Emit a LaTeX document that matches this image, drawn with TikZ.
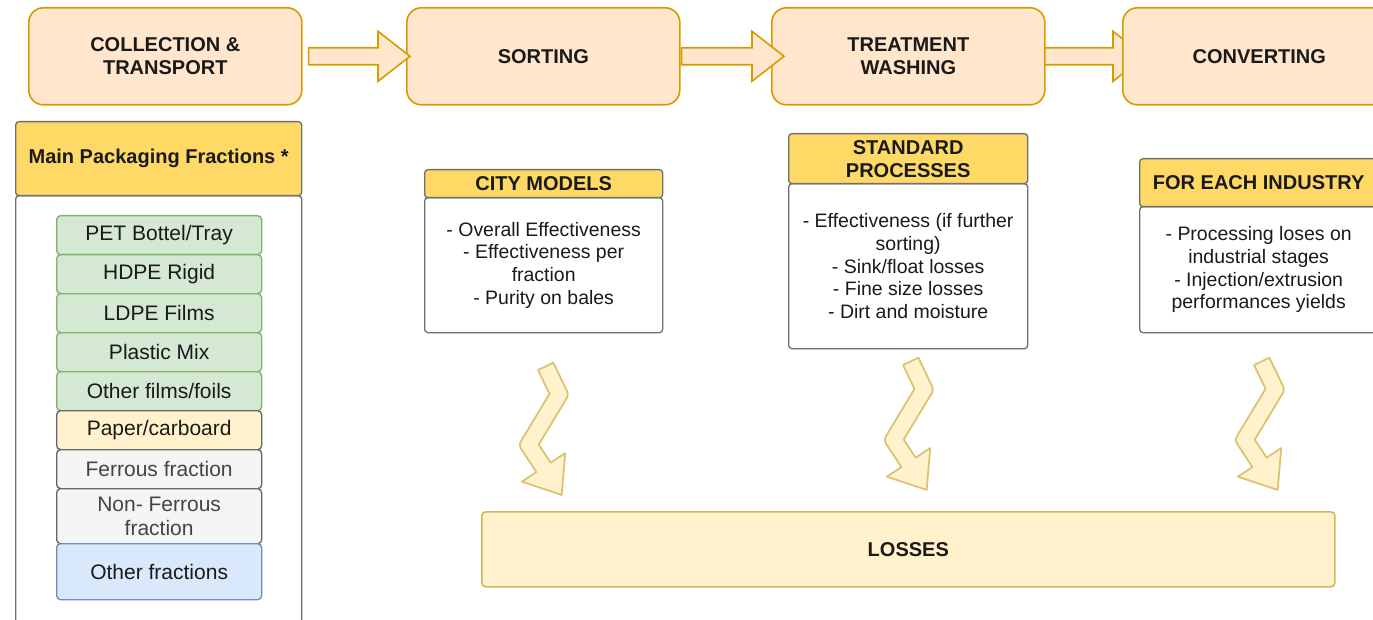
\documentclass[tikz,border=0pt]{standalone}
\usepackage{fontspec}
\setmainfont{Liberation Sans}
\usetikzlibrary{calc}
\pgfdeclarelayer{bg}
\pgfsetlayers{bg,main}
\definecolor{orfill}{HTML}{FFE6CC}
\definecolor{orline}{HTML}{D79B00}
\definecolor{yfill}{HTML}{FFD966}
\definecolor{hdrline}{HTML}{707070}
\definecolor{lyfill}{HTML}{FFF2CC}
\definecolor{lyline}{HTML}{D6B656}
\definecolor{gfill}{HTML}{D5E8D4}
\definecolor{gline}{HTML}{82B366}
\definecolor{bfill}{HTML}{DAE8FC}
\definecolor{bline}{HTML}{6C8EBF}
\definecolor{grfill}{HTML}{F5F5F5}
\definecolor{grline}{HTML}{666666}
\definecolor{txt}{HTML}{1A1A1A}
\definecolor{grtxt}{HTML}{444444}
\newcommand\blockarrow[2]{%
  \draw[blockarr] ($(#1)+(0,-8.5)$) -- ($(#2)+(-32,-8.5)$) -- ($(#2)+(-32,-25)$)
    -- (#2) -- ($(#2)+(-32,25)$) -- ($(#2)+(-32,8.5)$) -- ($(#1)+(0,8.5)$) -- cycle;}
\newcommand\zigarrow[1]{%
  \begin{scope}[shift={(#1)}]
    \draw[zigarr] (0.34,0.69) -- (15.66,-6.69) -- (27.68,18.25)
      .. controls (31.15,25.46) .. (27.01,32.31)
      -- (1.04,75.3) -- (12.95,93.37) -- (27.55,83.75) -- (24,125.6)
      -- (-15.86,112.35) -- (-1.25,102.73) -- (-14.64,82.38)
      .. controls (-19.04,75.7) .. (-14.9,68.85)
      -- (11.85,24.54) -- cycle;
  \end{scope}}
\begin{document}
\begin{tikzpicture}[x=0.75pt,y=-0.75pt,
  every node/.style={inner sep=0pt, align=center, text=txt},
  stage/.style={draw=orline, fill=orfill, line width=1.2pt, rounded corners=11pt,
    minimum width=204.75pt, minimum height=72.75pt, anchor=north west,
    font=\fontsize{15}{17.25}\selectfont\bfseries},
  blockarr/.style={draw=orline, fill=orfill, line width=1.2pt, line join=miter},
  zigarr/.style={draw=lyline!85, fill=lyfill, line width=1.3pt, line join=round},
  hdr/.style={draw=hdrline, fill=yfill, line width=1pt, rounded corners=2.5pt,
    anchor=north west, font=\fontsize{15}{17.25}\selectfont\bfseries},
  panel/.style={draw=hdrline, fill=white, line width=1pt, rounded corners=2.5pt,
    anchor=north west, font=\fontsize{14.6}{17}\selectfont},
  item/.style={line width=1pt, rounded corners=3pt, anchor=north west,
    minimum width=153.75pt, font=\fontsize{15.75}{18}\selectfont},
  green/.style={item, draw=gline, fill=gfill},
  paper/.style={item, draw=grline, fill=lyfill},
  grey/.style={item, draw=grline, fill=grfill, text=grtxt},
  blue/.style={item, draw=bline, fill=bfill},
  loss/.style={draw=lyline, fill=lyfill, line width=1.2pt, rounded corners=3pt,
    anchor=north west, minimum width=639.75pt, minimum height=56.25pt,
    font=\fontsize{15}{17.25}\selectfont\bfseries}]
\useasboundingbox (0,0) rectangle (1373,620);

% stage boxes
\node[stage] (coll) at (28,7) {COLLECTION \&\\TRANSPORT};
\node[stage] (sort) at (406,7) {SORTING};
\node[stage] (treat) at (771,7) {TREATMENT\\WASHING};
\node[stage] (conv) at (1122,7) {CONVERTING};

% block arrows
\path (coll.east) ++(6,0) coordinate (a1s);
\path (sort.west) ++(4,0) coordinate (a1t);
\path (sort.east) ++(1,0) coordinate (a2s);
\path (treat.west) ++(13,0) coordinate (a2t);
\path (treat.east) ++(-4,0) coordinate (a3s);
\path (conv.west) ++(23,0) coordinate (a3t);
\blockarrow{a1s}{a1t}
\blockarrow{a2s}{a2t}
\begin{pgfonlayer}{bg}
\blockarrow{a3s}{a3t}
\end{pgfonlayer}

% left panel
\node[panel, minimum width=214.5pt, minimum height=322.5pt] (fracbody) at (15,195) {};
\node[hdr, minimum width=214.5pt, minimum height=55.5pt] (frachead) at (15,121) {Main Packaging Fractions *};
\node[green, minimum height=29.25pt] (pet) at (56,215) {PET Bottel/Tray};
\node[green, minimum height=29.25pt] (hdpe) at (56,254) {HDPE Rigid};
\node[green, minimum height=29.25pt] (ldpe) at (56,293) {LDPE Films};
\node[green, minimum height=29.25pt] (mix) at (56,332) {Plastic Mix};
\node[green, minimum height=29.25pt] (films) at (56,371) {Other films/foils};
\node[paper, minimum height=29.25pt] (paper) at (56,410) {Paper/carboard};
\node[grey, minimum height=29.25pt] (ferr) at (56,449) {Ferrous fraction};
\node[grey, minimum height=41.25pt] (nonferr) at (56,488) {Non- Ferrous\\fraction};
\node[blue, minimum height=42pt] (other) at (56,543) {Other fractions};

% city models
\node[panel, minimum width=178.5pt, minimum height=101.25pt] (citybody) at (424,197)
  {- Overall Effectiveness\\- Effectiveness per\\fraction\\- Purity on bales};
\node[hdr, minimum width=178.5pt, minimum height=21pt] (cityhead) at (424,169) {CITY MODELS};

% standard processes
\node[panel, minimum width=179.25pt, minimum height=123.75pt] (stdbody) at (788,183)
  {- Effectiveness (if further\\sorting)\\- Sink/float losses\\- Fine size losses\\- Dirt and moisture};
\node[hdr, minimum width=179.25pt, minimum height=37.5pt] (stdhead) at (788,133) {STANDARD\\PROCESSES};

% for each industry
\node[panel, minimum width=178.5pt, minimum height=94.5pt] (indbody) at (1139,206)
  {- Processing loses on\\industrial stages\\- Injection/extrusion\\performances yields};
\node[hdr, minimum width=178.5pt, minimum height=36pt] (indhead) at (1139,158) {FOR EACH INDUSTRY};

% losses
\node[loss] (losses) at (481,511) {LOSSES};

% zigzag arrows
\zigarrow{$(citybody.south)+(-6,36)$}
\zigarrow{$(stdbody.south)+(-5.5,15)$}
\zigarrow{$(indbody.south)+(-5,31)$}
\end{tikzpicture}
\end{document}
